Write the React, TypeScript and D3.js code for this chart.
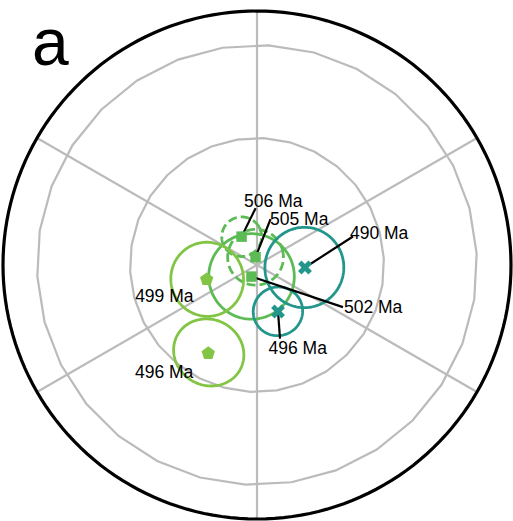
import React, { useEffect, useRef } from "react";
import * as d3 from "d3";

// ---- data (paleomagnetic poles, lon/lat in degrees, A95 in degrees) ----
const ages = [506, 505, 502, 499, 496, 490, 496];
const poleLon = [208.5, 190.6, 334.4, 286.0, 331.1, 87.0, 24.3];
const poleLat = [82.7, 88.2, 87.1, 78.1, 66.6, 79.1, 78.4];
const a95 = [4.5, 6.3, 9.7, 8.4, 8.1, 9.1, 5.6];
const study = ["A", "A", "A", "B", "B", "C", "C"];
const circleStyle = ["dashed", "dashed", "solid", "solid", "solid", "solid", "solid"];
const parallels = [60, 30];
const meridians = [0, 60, 120, 180, 240, 300];
const panelLabel = "a";

// ---- layout / styles ----
const W = 513;
const H = 521;
const studyColor: Record<string, string> = { A: "#5cbb55", B: "#82c545", C: "#23968c" };
const studyMarker: Record<string, string> = { A: "square", B: "pentagon", C: "cross" };
// label offsets relative to projected pole: [textDx, textDy, leaderDx, leaderDy | null]
const labelLayout: [number, number, number | null, number | null][] = [
  [2.5, -30, 14, -28.5],
  [14.5, -32, 15, -38],
  [92.5, 36.5, 91.5, 30.5],
  [-71.5, 23, null, null],
  [-73.3, 25, null, null],
  [45, -29, 48, -31],
  [-9.5, 42.5, 2, 27],
];

function pentagonPath(r: number) {
  const pts = d3.range(5).map((i) => {
    const a = (-90 + i * 72) * (Math.PI / 180);
    return [r * Math.cos(a), r * Math.sin(a)] as [number, number];
  });
  return d3.line()(pts) + "Z";
}

export default function App() {
  const ref = useRef<SVGSVGElement>(null);

  useEffect(() => {
    const svg = d3.select(ref.current);
    svg.selectAll("*").remove();

    const cx = 257, cy = 265, R = 254;
    const proj = d3.geoOrthographic().rotate([0, -90]).scale(R).translate([cx, cy]);
    const projFlat = d3.geoOrthographic().rotate([0, -90]).scale(R).translate([cx, cy]).precision(0);
    const path = d3.geoPath(proj);
    const pathFlat = d3.geoPath(projFlat);

    // grid: parallels as polygons (12° steps), meridians
    const g = svg.append("g");
    parallels.forEach((lat) => {
      const coords = d3.range(9, 9 + 361, 12).map((lon) => [lon, lat]);
      g.append("path")
        .attr("d", pathFlat({ type: "LineString", coordinates: coords } as any) || "")
        .attr("fill", "none")
        .attr("stroke", "#bbbbbb")
        .attr("stroke-width", 2.2);
    });
    meridians.forEach((lon) => {
      const coords = [[lon, 90], [lon, 0.01]];
      g.append("path")
        .attr("d", pathFlat({ type: "LineString", coordinates: coords } as any) || "")
        .attr("fill", "none")
        .attr("stroke", "#bbbbbb")
        .attr("stroke-width", 2.2);
    });

    // outline
    svg.append("path")
      .attr("d", path({ type: "Sphere" } as any) || "")
      .attr("fill", "none")
      .attr("stroke", "#000")
      .attr("stroke-width", 3.2);

    // confidence circles
    ages.forEach((_, i) => {
      const circ = d3.geoCircle().center([poleLon[i], poleLat[i]]).radius(a95[i]).precision(2)();
      svg.append("path")
        .attr("d", path(circ as any) || "")
        .attr("fill", "none")
        .attr("stroke", studyColor[study[i]])
        .attr("stroke-width", 2.8)
        .attr("stroke-dasharray", circleStyle[i] === "dashed" ? "9,4" : null);
    });

    // leader lines
    ages.forEach((_, i) => {
      const p = proj([poleLon[i], poleLat[i]])!;
      const [, , ldx, ldy] = labelLayout[i];
      if (ldx === null || ldy === null) return;
      svg.append("line")
        .attr("x1", p[0]).attr("y1", p[1])
        .attr("x2", p[0] + ldx).attr("y2", p[1] + ldy)
        .attr("stroke", "#000")
        .attr("stroke-width", 2.2);
    });

    // markers
    ages.forEach((_, i) => {
      const p = proj([poleLon[i], poleLat[i]])!;
      const m = studyMarker[study[i]];
      let d = "";
      let rot = 0;
      if (m === "square") d = d3.symbol(d3.symbolSquare, 110)() || "";
      else if (m === "pentagon") d = pentagonPath(7);
      else { d = d3.symbol(d3.symbolCross, 120)() || ""; rot = 45; }
      svg.append("path")
        .attr("d", d)
        .attr("transform", `translate(${p[0]},${p[1]}) rotate(${rot})`)
        .attr("fill", studyColor[study[i]]);
    });

    // labels
    ages.forEach((age, i) => {
      const p = proj([poleLon[i], poleLat[i]])!;
      const [tdx, tdy] = labelLayout[i];
      svg.append("text")
        .attr("x", p[0] + tdx)
        .attr("y", p[1] + tdy)
        .attr("font-family", "'Liberation Sans', Arial, Helvetica, sans-serif")
        .attr("font-size", 17.5)
        .attr("fill", "#000")
        .text(`${age} Ma`);
    });

    svg.append("text")
      .attr("x", 32)
      .attr("y", 65)
      .attr("font-family", "'Liberation Sans', Arial, Helvetica, sans-serif")
      .attr("font-size", 66)
      .attr("fill", "#000")
      .text(panelLabel);
  }, []);

  return (
    <svg
      ref={ref}
      width={W}
      height={H}
      style={{ position: "fixed", left: 0, top: 0, background: "#fff" }}
    />
  );
}
